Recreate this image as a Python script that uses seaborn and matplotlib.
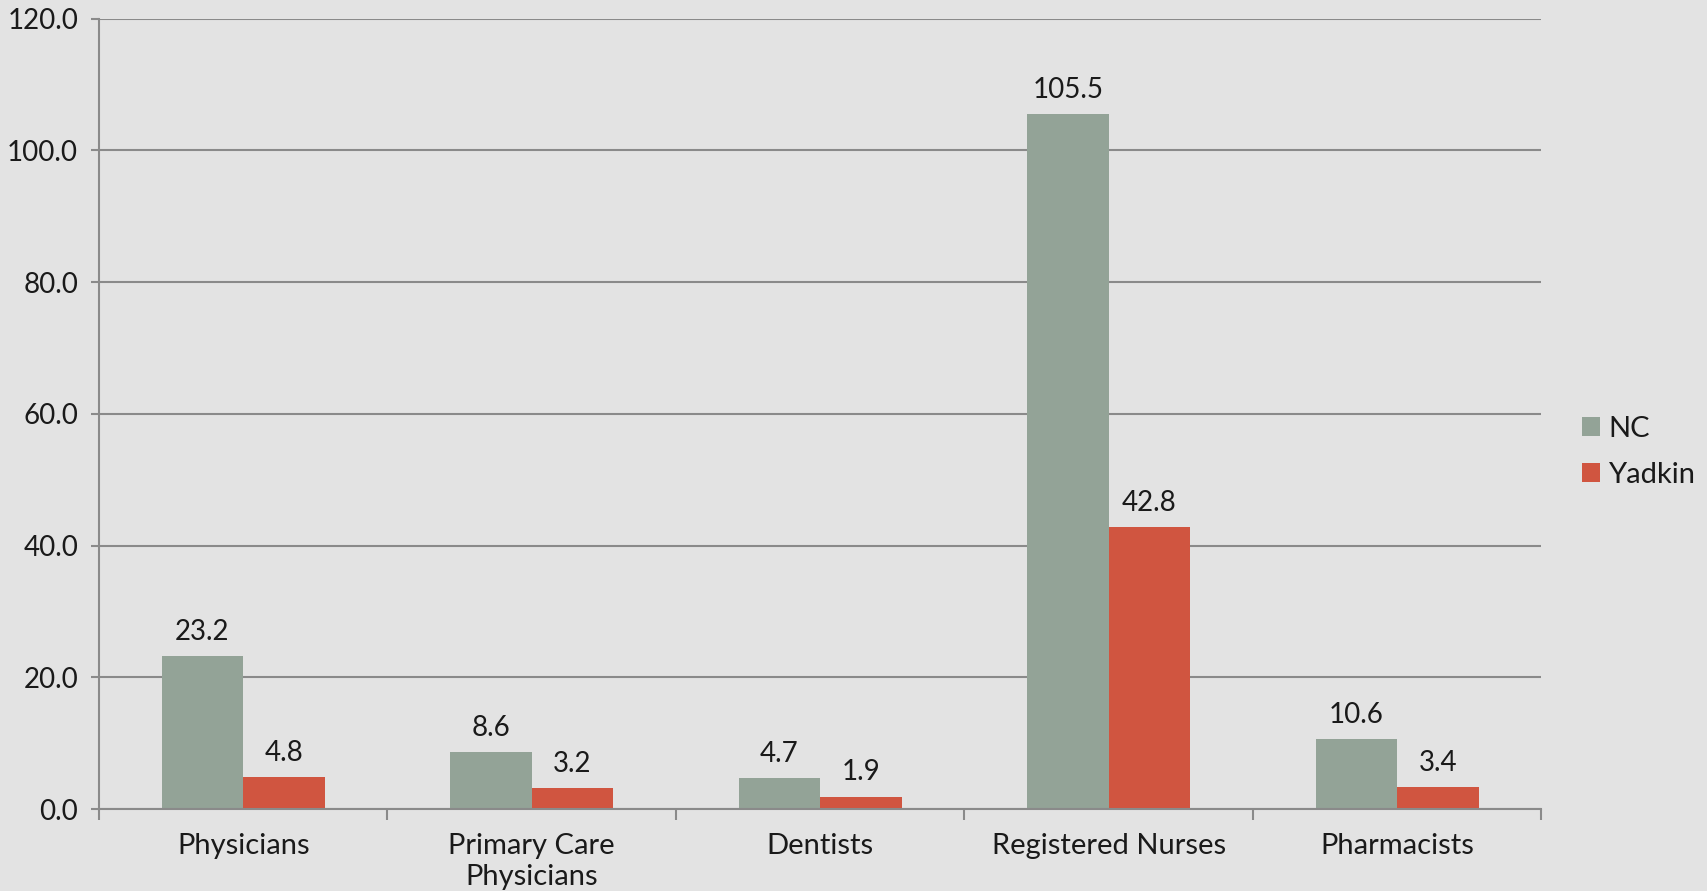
import pandas as pd
import matplotlib
matplotlib.use("Agg")
import matplotlib.pyplot as plt
import seaborn as sns
from matplotlib.ticker import MultipleLocator, FixedLocator

# Dados do gráfico
categorias = ["Physicians", "Primary Care\nPhysicians", "Dentists", "Registered Nurses", "Pharmacists"]
nc = [23.2, 8.6, 4.7, 105.5, 10.6]
yadkin = [4.8, 3.2, 1.9, 42.8, 3.4]
series = ["NC", "Yadkin"]
cores = ["#93a397", "#d05540"]

df = pd.DataFrame({
    "categoria": categorias * 2,
    "valor": nc + yadkin,
    "serie": [series[0]] * len(nc) + [series[1]] * len(yadkin),
})

sns.set_style("white")
plt.rcParams["font.family"] = ["Lato", "DejaVu Sans"]
fundo = "#e3e3e3"
texto = "#1a1a1a"
cinza = "#8a8a8a"

fig = plt.figure(figsize=(17.07, 8.91), dpi=100, facecolor=fundo)
ax = fig.add_axes([0.058, 0.092, 0.845, 0.887])
ax.set_facecolor(fundo)

sns.barplot(data=df, x="categoria", y="valor", hue="serie", palette=cores,
            width=0.566, saturation=1, ax=ax, order=categorias, hue_order=series,
            linewidth=0)

# Rótulos de dados
for cont in ax.containers:
    ax.bar_label(cont, fmt="%.1f", padding=8, fontsize=20, color=texto)

ax.set_ylim(0, 120)
ax.set_xlim(-0.5, len(categorias) - 0.5)
ax.yaxis.set_major_locator(MultipleLocator(20))
ax.yaxis.set_major_formatter(matplotlib.ticker.FormatStrFormatter("%.1f"))
ax.grid(axis="y", color=cinza, linewidth=1.5)
ax.set_axisbelow(True)

for s in ["top", "right"]:
    ax.spines[s].set_visible(False)
for s in ["left", "bottom"]:
    ax.spines[s].set_color(cinza)
    ax.spines[s].set_linewidth(1.5)

ax.set_xlabel("")
ax.set_ylabel("")
ax.tick_params(axis="y", labelsize=20, colors=texto, length=6, width=1.5, color=cinza,
               direction="out", left=True, pad=9)
ax.tick_params(axis="x", which="major", labelsize=21, colors=texto, length=0, pad=17)
for lbl in ax.get_xticklabels():
    lbl.set_linespacing(1.25)
ax.xaxis.set_minor_locator(FixedLocator([i - 0.5 for i in range(len(categorias) + 1)]))
ax.tick_params(axis="x", which="minor", length=8, width=1.5, color=cinza, direction="out", bottom=True)

ax.legend(loc="center left", bbox_to_anchor=(1.010, 0.452), frameon=False, fontsize=21,
          handlelength=0.6, handleheight=0.6, handletextpad=0.3, labelspacing=0.7,
          labelcolor=texto)

fig.savefig("out.png", dpi=100, facecolor=fundo)
